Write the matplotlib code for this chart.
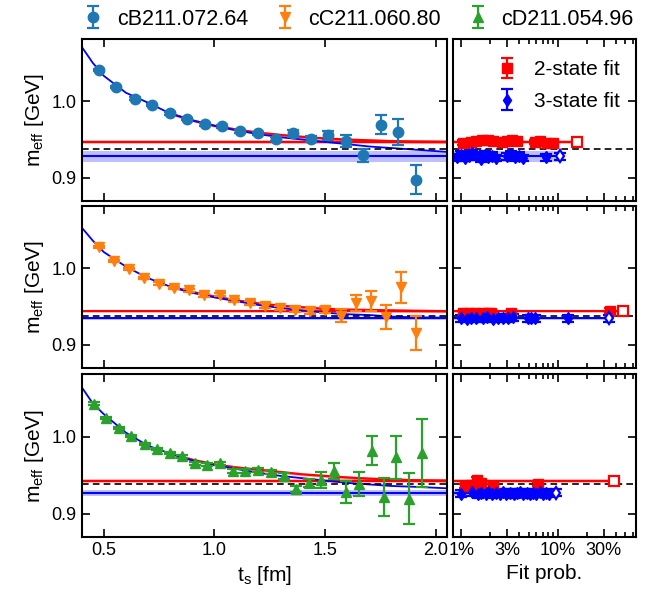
import matplotlib
matplotlib.use("Agg")
import matplotlib.pyplot as plt
from matplotlib.ticker import FixedLocator, NullFormatter

plt.rcParams['font.family'] = ['Liberation Sans', 'DejaVu Sans']
plt.rcParams['mathtext.fontset'] = 'custom'
plt.rcParams['mathtext.rm'] = 'Liberation Sans'

ensembles = ["cB211.072.64", "cC211.060.80", "cD211.054.96"]
colors = ["tab:blue", "tab:orange", "tab:green"]
markers = ["o", "v", "^"]
m_nucleon = 0.938

# effective mass data (t_s in fm, m_eff in GeV)
ts_B = [0.477, 0.557, 0.639, 0.718, 0.797, 0.876, 0.955, 1.035, 1.114, 1.196,
        1.276, 1.354, 1.434, 1.512, 1.592, 1.672, 1.750, 1.830, 1.911]
m_B = [1.041, 1.0187, 1.0035, 0.9948, 0.984, 0.9765, 0.970, 0.9674, 0.961, 0.958,
       0.951, 0.958, 0.9513, 0.9557, 0.948, 0.9296, 0.9696, 0.960, 0.898]
e_B = [0.0015, 0.0015, 0.0015, 0.0015, 0.0015, 0.0015, 0.002, 0.002, 0.002, 0.0025,
       0.003, 0.004, 0.004, 0.006, 0.0074, 0.0087, 0.0124, 0.0167, 0.019]

ts_C = [0.477, 0.545, 0.613, 0.681, 0.748, 0.816, 0.884, 0.952, 1.024, 1.090, 1.160,
        1.227, 1.295, 1.363, 1.430, 1.498, 1.570, 1.637, 1.705, 1.776, 1.843, 1.911]
m_C = [1.0274, 1.0091, 0.9991, 0.9874, 0.980, 0.9743, 0.9713, 0.9648, 0.9657, 0.9583, 0.9548,
       0.9513, 0.9483, 0.946, 0.9439, 0.946, 0.9383, 0.9548, 0.957, 0.9365, 0.975, 0.9157]
e_C = [0.0015, 0.0015, 0.0015, 0.0015, 0.0015, 0.0015, 0.002, 0.002, 0.002, 0.002, 0.0025,
       0.003, 0.003, 0.003, 0.0035, 0.004, 0.008, 0.010, 0.013, 0.016, 0.020, 0.022]

ts_D = [0.455, 0.512, 0.568, 0.624, 0.685, 0.741, 0.801, 0.854, 0.910, 0.967, 1.027, 1.084,
        1.140, 1.196, 1.253, 1.313, 1.369, 1.426, 1.483, 1.539, 1.596, 1.652, 1.710, 1.765,
        1.822, 1.878, 1.938]
m_D = [1.0426, 1.0243, 1.0113, 1.0004, 0.9904, 0.9839, 0.9787, 0.9743, 0.9657, 0.9635, 0.9652,
       0.9557, 0.9557, 0.9565, 0.9543, 0.9491, 0.9317, 0.9396, 0.9439, 0.9557, 0.9283, 0.9383,
       0.9817, 0.9217, 0.973, 0.9196, 0.9787]
e_D = [0.0015, 0.0015, 0.0015, 0.0015, 0.0015, 0.0015, 0.0015, 0.002, 0.002, 0.002, 0.002,
       0.0025, 0.0025, 0.003, 0.003, 0.004, 0.004, 0.005, 0.010, 0.0104, 0.0148, 0.0157,
       0.019, 0.024, 0.028, 0.0326, 0.044]

# fit curves: 3-state over the full range, 2-state from its t_min
t3 = [0.40, 0.45, 0.50, 0.60, 0.70, 0.80, 0.90, 1.00, 1.10, 1.20, 1.30, 1.40, 1.50,
      1.60, 1.70, 1.80, 1.90, 2.05]
f3_B = [1.071, 1.050, 1.033, 1.011, 0.998, 0.984, 0.975, 0.968, 0.962, 0.957, 0.953,
        0.950, 0.947, 0.944, 0.941, 0.939, 0.937, 0.934]
f3_C = [1.053, 1.036, 1.021, 1.002, 0.987, 0.976, 0.968, 0.962, 0.957, 0.952, 0.948,
        0.945, 0.942, 0.940, 0.939, 0.937, 0.936, 0.9355]
f3_D = [1.064, 1.043, 1.029, 1.005, 0.988, 0.978, 0.969, 0.963, 0.958, 0.953, 0.949,
        0.946, 0.943, 0.940, 0.938, 0.936, 0.935, 0.933]
t2 = [0.80, 0.90, 1.00, 1.10, 1.20, 1.30, 1.40, 1.50, 1.60, 1.70, 1.80, 1.90, 2.05]
f2_B = [0.984, 0.975, 0.968, 0.963, 0.959, 0.956, 0.9535, 0.9515, 0.950, 0.949, 0.948,
        0.9475, 0.947]
f2_C = [0.976, 0.969, 0.963, 0.958, 0.954, 0.951, 0.949, 0.947, 0.946, 0.9455, 0.945,
        0.9445, 0.944]
f2_D = [0.978, 0.970, 0.964, 0.960, 0.957, 0.954, 0.951, 0.949, 0.947, 0.9455, 0.9445,
        0.9435, 0.943]

# ground state energies from the selected fits (value, error)
E2 = [(0.947, 0.003), (0.9439, 0.002), (0.9426, 0.003)]
E3 = [(0.928, 0.007), (0.935, 0.002), (0.9274, 0.004)]

# fit-probability scan (probability in %), last entry is the selected fit
p2_B = [1.03, 1.27, 1.43, 1.62, 1.89, 2.13, 2.61, 2.94, 3.32, 3.74, 5.8, 6.5, 7.7, 9.0, 15.8]
m2_B = [0.946, 0.947, 0.948, 0.949, 0.949, 0.948, 0.947, 0.948, 0.949, 0.948, 0.947,
        0.948, 0.946, 0.945, 0.947]
p3_B = [0.9, 1.0, 1.1, 1.2, 1.3, 1.45, 1.6, 1.75, 1.9, 2.1, 2.3, 3.0, 3.3, 3.6, 4.0,
        4.4, 7.6, 10.6]
m3_B = [0.927, 0.930, 0.926, 0.929, 0.932, 0.928, 0.925, 0.930, 0.927, 0.929, 0.926,
        0.928, 0.931, 0.927, 0.929, 0.926, 0.927, 0.928]

p2_C = [1.04, 1.17, 1.38, 1.49, 1.68, 1.88, 2.05, 3.3, 35.0, 48.0]
m2_C = [0.941, 0.9415, 0.941, 0.9405, 0.941, 0.9415, 0.941, 0.941, 0.9445, 0.9439]
p3_C = [1.0, 1.13, 1.27, 1.43, 1.68, 1.82, 2.14, 2.4, 2.7, 3.05, 3.45, 4.9, 5.3, 5.8,
        12.8, 33.7]
m3_C = [0.935, 0.934, 0.935, 0.9345, 0.935, 0.936, 0.934, 0.935, 0.9355, 0.935, 0.936,
        0.935, 0.9345, 0.935, 0.935, 0.935]

p2_D = [1.1, 1.25, 1.45, 1.6, 2.15, 6.3, 38.0]
m2_D = [0.936, 0.937, 0.944, 0.9405, 0.936, 0.9385, 0.9426]
p3_D = [1.0, 1.3, 1.5, 1.6, 1.8, 1.9, 2.1, 2.3, 2.5, 2.7, 2.9, 3.2, 3.5, 3.8, 4.1, 4.4,
        4.8, 5.2, 5.6, 6.0, 6.5, 7.0, 7.6, 8.2, 9.5]
m3_D = [0.926, 0.928, 0.925, 0.927, 0.926, 0.928, 0.925, 0.927, 0.926, 0.928, 0.926,
        0.927, 0.925, 0.927, 0.928, 0.926, 0.927, 0.925, 0.927, 0.926, 0.928, 0.926,
        0.927, 0.926, 0.9274]

data = [(ts_B, m_B, e_B), (ts_C, m_C, e_C), (ts_D, m_D, e_D)]
fits3 = [f3_B, f3_C, f3_D]
fits2 = [f2_B, f2_C, f2_D]
scan2 = [(p2_B, m2_B), (p2_C, m2_C), (p2_D, m2_D)]
scan3 = [(p3_B, m3_B), (p3_C, m3_C), (p3_D, m3_D)]

fig = plt.figure(figsize=(6.57, 5.94), dpi=100)
rows = [(0.6616, 0.2727), (0.3805, 0.2727), (0.0960, 0.2744)]

handles = []
for i, (y0, h) in enumerate(rows):
    axl = fig.add_axes([0.1243, y0, 0.556, h])
    axr = fig.add_axes([0.689, y0, 0.279, h], sharey=axl)

    # horizontal bands of the ground state
    e2, de2 = E2[i]
    e3, de3 = E3[i]
    axl.axhspan(e2 - de2, e2 + de2, color='red', alpha=0.25, lw=0)
    axl.axhline(e2, color='red', lw=1.5)
    axl.axhspan(e3 - de3, e3 + de3, color='blue', alpha=0.25, lw=0)
    axl.axhline(e3, color='blue', lw=1.5)

    # fit curves
    f2 = fits2[i]
    axl.fill_between(t2, [v - 0.002 for v in f2], [v + 0.002 for v in f2],
                     color='red', alpha=0.3, lw=0)
    axl.plot(t2, f2, color='red', lw=1.6)
    axl.plot(t3, fits3[i], color='blue', lw=1.3)

    ts, m, e = data[i]
    eb = axl.errorbar(ts, m, yerr=e, fmt=markers[i], color=colors[i], ms=7.5,
                      elinewidth=1.6, capsize=4, capthick=1.6, zorder=5,
                      label=ensembles[i])
    handles.append(eb)

    for ax in (axl, axr):
        ax.axhline(m_nucleon, color='black', ls='--', lw=1.2, dashes=(4, 2.5))

    # fit probability scan
    p2, m2 = scan2[i]
    p3, m3 = scan3[i]
    axr.fill_between([0.5, p2[-1]], e2 - de2, e2 + de2, color='red', alpha=0.25, lw=0)
    axr.plot([0.5, p2[-1]], [e2, e2], color='red', lw=1.5)
    axr.fill_between([0.5, p3[-1]], e3 - de3, e3 + de3, color='blue', alpha=0.25, lw=0)
    axr.plot([0.5, p3[-1]], [e3, e3], color='blue', lw=1.5)

    h2 = axr.errorbar(p2[:-1], m2[:-1], yerr=0.003, fmt='s', color='red', ms=6.5,
                      elinewidth=1.6, capsize=4, capthick=1.6, label='2-state fit')
    axr.errorbar(p2[-1:], m2[-1:], yerr=0.003, fmt='s', color='red', mfc='white',
                 ms=6.5, mew=1.6, elinewidth=1.6, capsize=4, capthick=1.6)
    h3 = axr.errorbar(p3[:-1], m3[:-1], yerr=0.0045, fmt='d', color='blue', ms=6.5,
                      elinewidth=1.6, capsize=4, capthick=1.6, label='3-state fit')
    axr.errorbar(p3[-1:], m3[-1:], yerr=0.0045, fmt='d', color='blue', mfc='white',
                 ms=6.5, mew=1.6, elinewidth=1.6, capsize=4, capthick=1.6)

    axl.set_xlim(0.4, 2.05)
    axl.set_ylim(0.87, 1.081)
    axl.set_xticks([0.5, 1.0, 1.5, 2.0])
    axl.set_yticks([0.9, 1.0])
    axl.set_ylabel(r'm$_\mathrm{eff}$ [GeV]', fontsize=15)

    axr.set_xscale('log')
    axr.set_xlim(0.81, 65)
    axr.xaxis.set_major_locator(FixedLocator([1, 3, 10, 30]))
    axr.xaxis.set_minor_locator(FixedLocator([2, 4, 5, 6, 7, 8, 9, 20, 40, 50, 60]))
    axr.xaxis.set_minor_formatter(NullFormatter())
    axr.set_xticklabels(['1%', '3%', '10%', '30%'])
    axr.tick_params(labelleft=False)

    for ax in (axl, axr):
        ax.tick_params(which='both', direction='in', top=True, right=True,
                       labelsize=13, width=1.2)
        ax.tick_params(which='major', length=6)
        ax.tick_params(which='minor', length=3.5)
        for s in ax.spines.values():
            s.set_linewidth(1.5)

    if i < 2:
        axl.tick_params(labelbottom=False)
        axr.tick_params(labelbottom=False)
    else:
        axl.set_xlabel(r't$_\mathrm{s}$ [fm]', fontsize=15)
        axr.set_xlabel('Fit prob.', fontsize=15)

    if i == 0:
        axr.legend(handles=[h2, h3], loc='upper right', bbox_to_anchor=(0.96, 0.92),
                   frameon=False, fontsize=15, handlelength=1.0, labelspacing=0.6,
                   handletextpad=0.8, borderaxespad=0.0)

fig.legend(handles=handles, loc='center', bbox_to_anchor=(0.545, 0.968), ncol=3,
           frameon=False, fontsize=15.5, handlelength=1.0, columnspacing=1.2,
           handletextpad=0.6)

fig.savefig('out.png', dpi=100)
